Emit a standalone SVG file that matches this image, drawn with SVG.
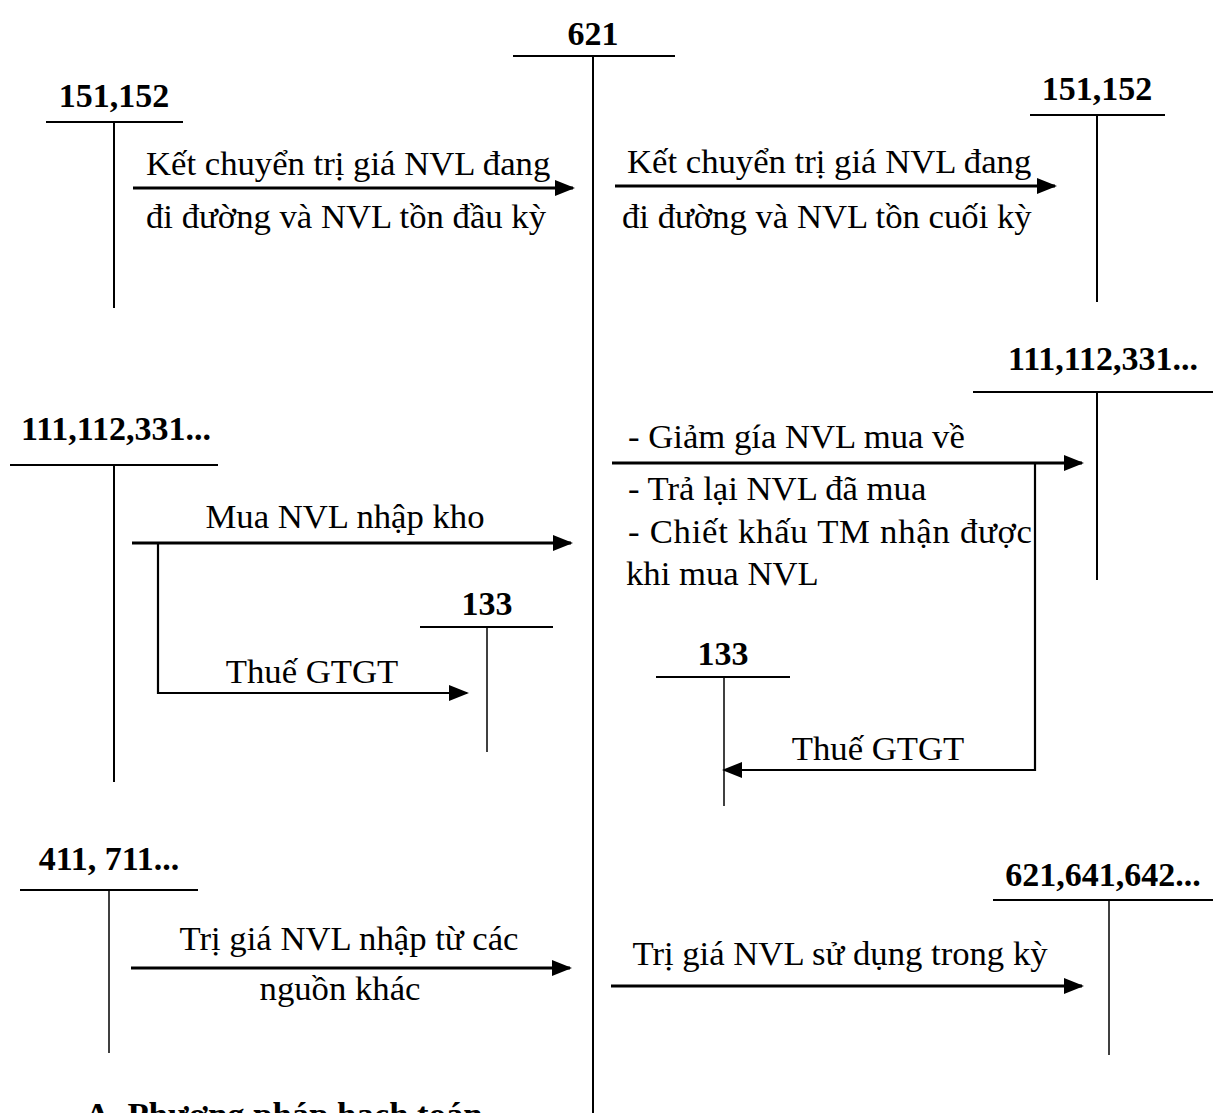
<svg xmlns="http://www.w3.org/2000/svg" width="1213" height="1113" viewBox="0 0 1213 1113">
<style>
text{font-family:"Liberation Serif","Times New Roman",serif;font-size:34.7px;fill:#000}
.h{font-weight:bold;text-anchor:middle;font-size:34px}
.t{stroke:#000;stroke-width:2;fill:none}
.thin{stroke:#000;stroke-width:1.5;fill:none}
.a{stroke:#000;stroke-width:3;fill:none}
.b{stroke:#000;stroke-width:2.2;fill:none}
</style>
<defs>
<marker id="arr" markerUnits="userSpaceOnUse" markerWidth="20" markerHeight="16" refX="18" refY="8" orient="auto">
<path d="M0,0 L20,8 L0,16 Z" fill="#000"/>
</marker>
</defs>
<rect width="1213" height="1113" fill="#fff"/>

<g id="acc621">
<text class="h" x="593" y="45">621</text>
<line class="t" x1="513" y1="56" x2="675" y2="56"/>
<line class="t" x1="593" y1="56" x2="593" y2="1113"/>
</g>
<g id="acc151L">
<text class="h" x="114" y="107">151,152</text>
<line class="t" x1="46" y1="122" x2="183" y2="122"/>
<line class="t" x1="114" y1="122" x2="114" y2="308"/>
</g>
<g id="acc151R">
<text class="h" x="1097" y="100">151,152</text>
<line class="t" x1="1030" y1="115" x2="1165" y2="115"/>
<line class="t" x1="1097" y1="115" x2="1097" y2="302"/>
</g>
<g id="acc111L">
<text class="h" x="116" y="440">111,112,331...</text>
<line class="t" x1="10" y1="465" x2="218" y2="465"/>
<line class="t" x1="114" y1="465" x2="114" y2="782"/>
</g>
<g id="acc133L">
<text class="h" x="487" y="615">133</text>
<line class="t" x1="420" y1="627" x2="553" y2="627"/>
<line class="thin" x1="487" y1="627" x2="487" y2="752"/>
</g>
<g id="acc111R">
<text class="h" x="1103" y="370">111,112,331...</text>
<line class="t" x1="973" y1="392" x2="1213" y2="392"/>
<line class="t" x1="1097" y1="392" x2="1097" y2="580"/>
</g>
<g id="acc133R">
<text class="h" x="723" y="665">133</text>
<line class="t" x1="656" y1="677" x2="790" y2="677"/>
<line class="thin" x1="724" y1="677" x2="724" y2="806"/>
</g>
<g id="acc411">
<text class="h" x="109" y="870">411, 711...</text>
<line class="t" x1="20" y1="890" x2="198" y2="890"/>
<line class="thin" x1="109" y1="890" x2="109" y2="1053"/>
</g>
<g id="acc621b">
<text class="h" x="1103" y="886">621,641,642...</text>
<line class="t" x1="993" y1="900" x2="1213" y2="900"/>
<line class="thin" x1="1109" y1="900" x2="1109" y2="1055"/>
</g>

<g id="connectors">
<line class="a" x1="133" y1="188" x2="573" y2="188" marker-end="url(#arr)"/>
<line class="a" x1="615" y1="186" x2="1055" y2="186" marker-end="url(#arr)"/>
<line class="a" x1="132" y1="543" x2="571" y2="543" marker-end="url(#arr)"/>
<polyline class="b" points="158,543 158,693 467,693" marker-end="url(#arr)"/>
<line class="a" x1="612" y1="463" x2="1082" y2="463" marker-end="url(#arr)"/>
<polyline class="b" points="1035,463 1035,770 724,770" marker-end="url(#arr)"/>
<line class="a" x1="131" y1="968" x2="570" y2="968" marker-end="url(#arr)"/>
<line class="a" x1="611" y1="986" x2="1082" y2="986" marker-end="url(#arr)"/>
</g>

<g id="labels">
<text x="146" y="175">Kết chuyển trị giá NVL đang</text>
<text x="146" y="228">đi đường và NVL tồn đầu kỳ</text>
<text x="627" y="173">Kết chuyển trị giá NVL đang</text>
<text x="622" y="228">đi đường và NVL tồn cuối kỳ</text>
<text x="345" y="528" text-anchor="middle">Mua NVL nhập kho</text>
<text x="312" y="683" text-anchor="middle">Thuế GTGT</text>
<text x="628" y="448">- Giảm gía NVL mua về</text>
<text x="628" y="500">- Trả lại NVL đã mua</text>
<text x="628" y="543" textLength="404" lengthAdjust="spacing">- Chiết khấu TM nhận được</text>
<text x="626" y="585">khi mua NVL</text>
<text x="878" y="760" text-anchor="middle">Thuế GTGT</text>
<text x="349" y="950" text-anchor="middle">Trị giá NVL nhập từ các</text>
<text x="340" y="1000" text-anchor="middle">nguồn khác</text>
<text x="840" y="965" text-anchor="middle">Trị giá NVL sử dụng trong kỳ</text>
<text x="85" y="1126" font-weight="bold">A. Phương pháp hạch toán</text>
</g>
</svg>
